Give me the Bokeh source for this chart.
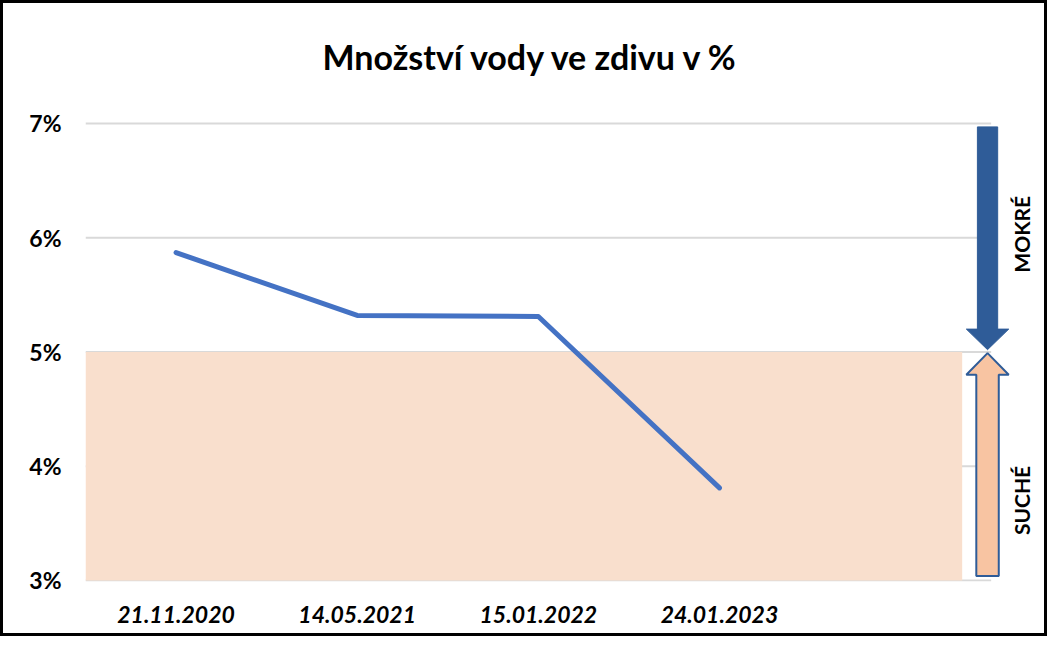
from bokeh.plotting import figure
from bokeh.models import FixedTicker, Range1d, Label
from bokeh.embed import file_html
from bokeh.resources import INLINE

# ---- data ----
dates = ["21.11.2020", "14.05.2021", "15.01.2022", "24.01.2023"]
water = [5.87, 5.32, 5.31, 3.81]
y_ticks = [3, 4, 5, 6, 7]
y_labels = ["3%", "4%", "5%", "6%", "7%"]
dry_limit = 5.0
y_min, y_max = 3.0, 7.0
title_text = "Množství vody ve zdivu v %"
wet_label = "MOKRÉ"
dry_label = "SUCHÉ"

LINE_BLUE = "#4472C4"
DARK_BLUE = "#2F5C98"
BAND = "#F9DFCD"
ARROW_FILL = "#F8C4A2"
GRID = "#D9D9D9"
FONT = "Lato"

xs = list(range(len(dates)))
n_slots = len(dates) + 1  # one empty slot at the right

# the frame extends above the top tick so that the title sits inside it
p = figure(width=1047, height=636, output_backend="svg", toolbar_location=None,
           x_range=Range1d(-0.5, 4.80), y_range=Range1d(2.991, 8.05),
           min_border_left=82, min_border_right=5, min_border_top=0, min_border_bottom=58)
p.outline_line_color = None
p.border_fill_color = "white"
p.background_fill_color = "white"
p.xgrid.visible = False
p.ygrid.visible = False

# title
p.add_layout(Label(x=1.96, y=7.59, text=title_text, text_align="center",
                   text_baseline="middle", text_font=FONT, text_font_size="34px",
                   text_font_style="bold", text_color="black"))

# gridlines (only across the category slots)
x_left, x_right = -0.5, n_slots - 0.5
p.segment(x0=[x_left] * len(y_ticks), x1=[x_right] * len(y_ticks), y0=y_ticks, y1=y_ticks,
          line_color=GRID, line_width=2)

# dry band
p.quad(left=[x_left], right=[n_slots - 0.5 - 0.16], bottom=[y_min], top=[dry_limit],
       fill_color=BAND, line_color=None)

# data line
p.line(xs, water, line_color=LINE_BLUE, line_width=5, line_cap="round", line_join="round")

# arrows in the empty slot
cx = n_slots - 0.5 - 0.02
shaft = 0.056
head = 0.117
# wet arrow (down, from top to limit)
p.patch(x=[cx - shaft, cx + shaft, cx + shaft, cx + head, cx, cx - head, cx - shaft],
        y=[y_max - 0.03, y_max - 0.03, dry_limit + 0.2, dry_limit + 0.2, dry_limit + 0.02,
           dry_limit + 0.2, dry_limit + 0.2],
        fill_color=DARK_BLUE, line_color=DARK_BLUE, line_width=1)
# dry arrow (up, from bottom to limit)
shaft2 = 0.062
p.patch(x=[cx - shaft2, cx + shaft2, cx + shaft2, cx + head, cx, cx - head, cx - shaft2],
        y=[y_min + 0.04, y_min + 0.04, dry_limit - 0.2, dry_limit - 0.2, dry_limit - 0.01,
           dry_limit - 0.2, dry_limit - 0.2],
        fill_color=ARROW_FILL, line_color=DARK_BLUE, line_width=2)

lab_x = n_slots - 0.5 + 0.17
p.add_layout(Label(x=lab_x, y=(y_max + dry_limit) / 2 + 0.03, text=wet_label, angle=1.5708,
                   text_align="center", text_baseline="middle", text_font=FONT,
                   text_font_size="21px", text_font_style="bold", text_color="black"))
p.add_layout(Label(x=lab_x, y=y_min + 0.70, text=dry_label, angle=1.5708,
                   text_align="center", text_baseline="middle", text_font=FONT,
                   text_font_size="21px", text_font_style="bold", text_color="black"))

# axes
p.xaxis.ticker = FixedTicker(ticks=xs)
p.xaxis.major_label_overrides = {i: d for i, d in zip(xs, dates)}
p.xaxis.axis_line_color = None
p.xaxis.major_tick_line_color = None
p.xaxis.minor_tick_line_color = None
p.xaxis.major_label_text_font = FONT
p.xaxis.major_label_text_font_size = "23px"
p.xaxis.major_label_text_font_style = "bold italic"
p.xaxis.major_label_text_color = "black"
p.xaxis.major_label_standoff = 18

p.yaxis.ticker = FixedTicker(ticks=y_ticks)
p.yaxis.major_label_overrides = {t: l for t, l in zip(y_ticks, y_labels)}
p.yaxis.axis_line_color = None
p.yaxis.major_tick_line_color = None
p.yaxis.minor_tick_line_color = None
p.yaxis.major_label_text_font = FONT
p.yaxis.major_label_text_font_size = "23px"
p.yaxis.major_label_text_font_style = "bold"
p.yaxis.major_label_text_color = "black"
p.yaxis.major_label_standoff = 18

# chart border
p.styles = {"border": "3px solid black", "box-sizing": "border-box"}

open("out.html", "w").write(file_html(p, INLINE))
